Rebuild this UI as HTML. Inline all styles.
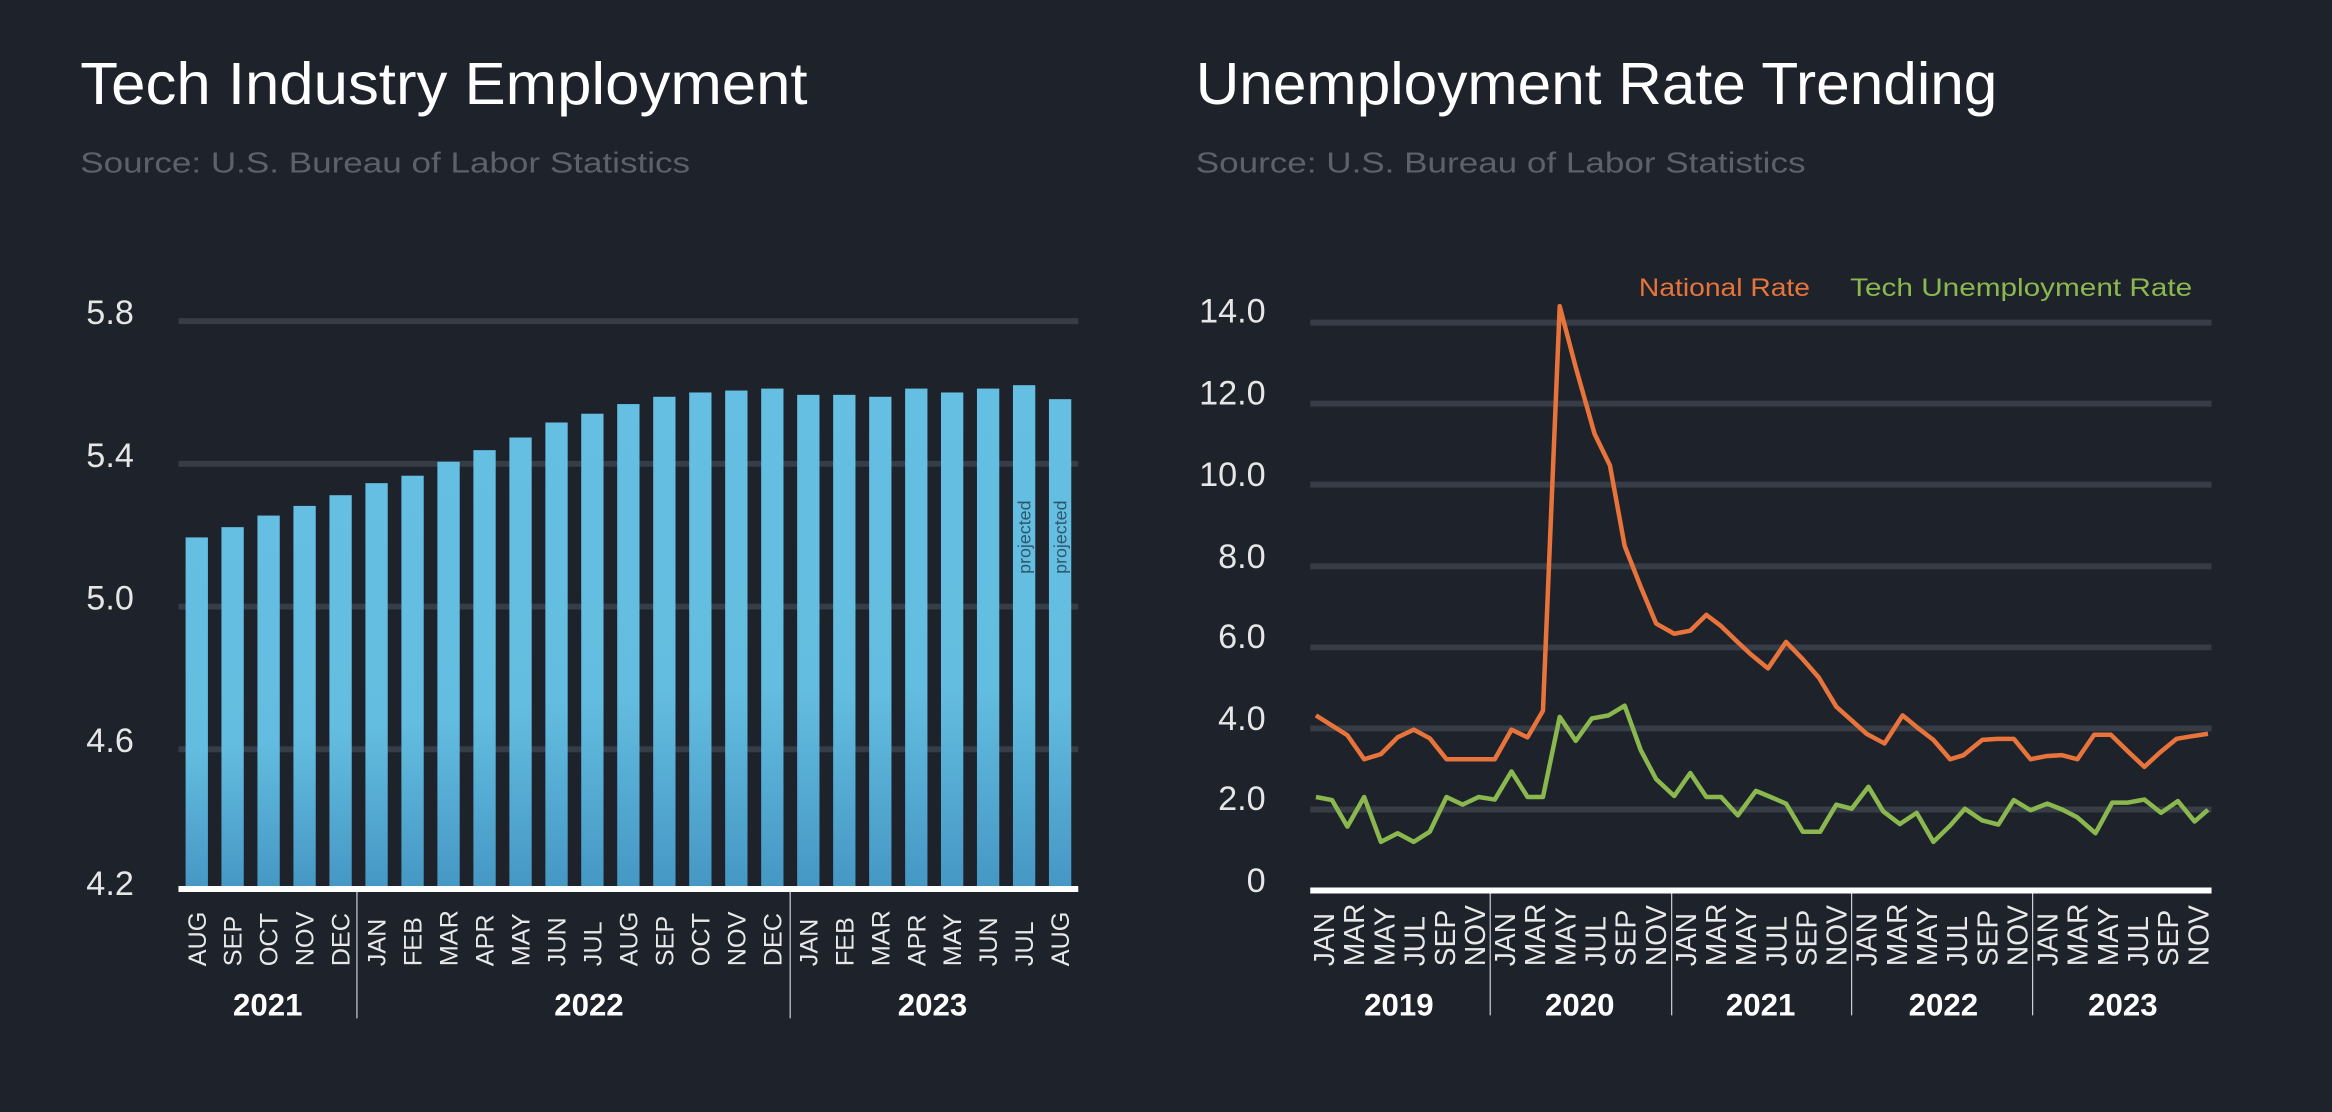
<!DOCTYPE html>
<html><head><meta charset="utf-8"><style>
html,body{margin:0;padding:0;background:#1e232b;}
svg{display:block;}
text{font-family:"Liberation Sans",sans-serif;}
</style></head><body>
<svg width="2332" height="1112" viewBox="0 0 1568 748" preserveAspectRatio="none" xmlns="http://www.w3.org/2000/svg">
<defs>
<linearGradient id="bg" x1="0" y1="0" x2="0" y2="1">
<stop offset="0" stop-color="#64bfe2"/><stop offset="0.6" stop-color="#63bde0"/><stop offset="1" stop-color="#4597c4"/>
</linearGradient>
</defs>
<rect width="1568" height="748" fill="#1e232b"/>
<!-- titles -->
<text x="54" y="70" font-size="40" fill="#ffffff" textLength="489" lengthAdjust="spacingAndGlyphs">Tech Industry Employment</text>
<text x="54" y="116" font-size="19" fill="#5b626b" textLength="410" lengthAdjust="spacingAndGlyphs">Source: U.S. Bureau of Labor Statistics</text>
<text x="804" y="70" font-size="40" fill="#ffffff" textLength="539" lengthAdjust="spacingAndGlyphs">Unemployment Rate Trending</text>
<text x="804" y="116" font-size="19" fill="#5b626b" textLength="410" lengthAdjust="spacingAndGlyphs">Source: U.S. Bureau of Labor Statistics</text>

<!-- LEFT CHART -->
<g stroke="#363d47" stroke-width="4">
<line x1="120" y1="216" x2="725" y2="216"/><line x1="120" y1="312" x2="725" y2="312"/>
<line x1="120" y1="408" x2="725" y2="408"/><line x1="120" y1="504" x2="725" y2="504"/>
</g>
<g font-size="23" fill="#e6e6e6" text-anchor="end">
<text x="90" y="218">5.8</text><text x="90" y="314">5.4</text><text x="90" y="410">5.0</text><text x="90" y="506">4.6</text><text x="90" y="602">4.2</text>
</g>
<g fill="url(#bg)">
<rect x="124.8" y="361.5" width="15" height="237"/>
<rect x="148.9" y="354.6" width="15" height="244"/>
<rect x="173.1" y="346.8" width="15" height="252"/>
<rect x="197.3" y="340.3" width="15" height="258"/>
<rect x="221.5" y="333.1" width="15" height="265"/>
<rect x="245.7" y="325" width="15" height="273"/>
<rect x="269.9" y="320" width="15" height="278"/>
<rect x="294.1" y="310.6" width="15" height="288"/>
<rect x="318.3" y="302.8" width="15" height="296"/>
<rect x="342.5" y="294.3" width="15" height="304"/>
<rect x="366.7" y="284.2" width="15" height="314"/>
<rect x="390.8" y="278.3" width="15" height="320"/>
<rect x="415" y="271.8" width="15" height="326"/>
<rect x="439.2" y="266.9" width="15" height="331"/>
<rect x="463.4" y="264" width="15" height="334"/>
<rect x="487.6" y="262.7" width="15" height="336"/>
<rect x="511.8" y="261.4" width="15" height="337"/>
<rect x="536" y="265.6" width="15" height="333"/>
<rect x="560.2" y="265.6" width="15" height="333"/>
<rect x="584.4" y="266.9" width="15" height="332"/>
<rect x="608.6" y="261.4" width="15" height="337"/>
<rect x="632.7" y="264" width="15" height="334"/>
<rect x="656.9" y="261.4" width="15" height="337"/>
<rect x="681.1" y="259.1" width="15" height="339"/>
<rect x="705.3" y="268.5" width="15" height="330"/>
</g>
<g font-size="12" fill="#2f5669">
<text transform="translate(693,386) rotate(-90)">projected</text>
<text transform="translate(717,386) rotate(-90)">projected</text>
</g>
<line x1="120" y1="598" x2="725" y2="598" stroke="#ffffff" stroke-width="4"/>
<g stroke="#cfd3d8" stroke-width="0.8"><line x1="240" y1="600" x2="240" y2="685"/><line x1="531.3" y1="600" x2="531.3" y2="685"/></g>
<g font-size="17" fill="#e8e8e8">
<text transform="translate(138.4,650) rotate(-90)">AUG</text>
<text transform="translate(162.5,650) rotate(-90)">SEP</text>
<text transform="translate(186.7,650) rotate(-90)">OCT</text>
<text transform="translate(210.9,650) rotate(-90)">NOV</text>
<text transform="translate(235.1,650) rotate(-90)">DEC</text>
<text transform="translate(259.3,650) rotate(-90)">JAN</text>
<text transform="translate(283.5,650) rotate(-90)">FEB</text>
<text transform="translate(307.7,650) rotate(-90)">MAR</text>
<text transform="translate(331.9,650) rotate(-90)">APR</text>
<text transform="translate(356.1,650) rotate(-90)">MAY</text>
<text transform="translate(380.3,650) rotate(-90)">JUN</text>
<text transform="translate(404.4,650) rotate(-90)">JUL</text>
<text transform="translate(428.6,650) rotate(-90)">AUG</text>
<text transform="translate(452.8,650) rotate(-90)">SEP</text>
<text transform="translate(477,650) rotate(-90)">OCT</text>
<text transform="translate(501.2,650) rotate(-90)">NOV</text>
<text transform="translate(525.4,650) rotate(-90)">DEC</text>
<text transform="translate(549.6,650) rotate(-90)">JAN</text>
<text transform="translate(573.8,650) rotate(-90)">FEB</text>
<text transform="translate(598,650) rotate(-90)">MAR</text>
<text transform="translate(622.2,650) rotate(-90)">APR</text>
<text transform="translate(646.3,650) rotate(-90)">MAY</text>
<text transform="translate(670.5,650) rotate(-90)">JUN</text>
<text transform="translate(694.7,650) rotate(-90)">JUL</text>
<text transform="translate(718.9,650) rotate(-90)">AUG</text>
</g>
<g font-size="21" font-weight="bold" fill="#ffffff" text-anchor="middle">
<text x="180" y="683">2021</text><text x="396" y="683">2022</text><text x="627" y="683">2023</text>
</g>

<!-- RIGHT CHART -->
<g stroke="#363d47" stroke-width="4">
<line x1="881" y1="217" x2="1487" y2="217"/><line x1="881" y1="271.5" x2="1487" y2="271.5"/>
<line x1="881" y1="326" x2="1487" y2="326"/><line x1="881" y1="381" x2="1487" y2="381"/>
<line x1="881" y1="435.5" x2="1487" y2="435.5"/><line x1="881" y1="490" x2="1487" y2="490"/>
<line x1="881" y1="544.5" x2="1487" y2="544.5"/>
</g>
<g font-size="23" fill="#e6e6e6" text-anchor="end">
<text x="851" y="217">14.0</text><text x="851" y="272">12.0</text><text x="851" y="327">10.0</text><text x="851" y="382">8.0</text>
<text x="851" y="436">6.0</text><text x="851" y="491">4.0</text><text x="851" y="545">2.0</text><text x="851" y="600">0</text>
</g>
<g font-size="17">
<text x="1102" y="199" fill="#e8743b" textLength="115" lengthAdjust="spacingAndGlyphs">National Rate</text>
<text x="1244" y="199" fill="#8ab84f" textLength="230" lengthAdjust="spacingAndGlyphs">Tech Unemployment  Rate</text>
</g>
<g transform="matrix(0.4503,0,0,0.3432,793.4,168.2)" fill="none" stroke-linejoin="round">
<polyline vector-effect="non-scaling-stroke" stroke="#e8743b" stroke-width="4.5" points="203,912 227,932 250,951 275,998 300,988 325,955 349,940 373,957 398,998 422,998 446,998 470,998 495,940 519,955 542,903 567,110 591,230 619,360 642,422 664,580 688,660 711,732 738,752 762,746 786,715 808,737 830,765 852,792 878,820 905,768 930,802 954,838 980,895 1003,922 1025,948 1052,967 1079,912 1103,938 1125,960 1150,998 1170,990 1198,960 1220,958 1245,958 1270,998 1293,992 1317,990 1340,998 1365,950 1390,950 1415,982 1440,1013 1463,985 1488,958 1510,953 1535,948"/>
<polyline vector-effect="non-scaling-stroke" stroke="#8ab84f" stroke-width="4.5" points="203,1072 227,1078 250,1130 275,1072 300,1160 325,1143 349,1160 373,1140 398,1072 422,1087 446,1072 470,1077 495,1022 519,1072 542,1072 567,915 591,962 615,918 640,912 664,893 688,980 711,1037 738,1070 762,1025 786,1072 808,1072 833,1108 860,1060 882,1072 905,1085 930,1140 956,1140 980,1087 1003,1095 1028,1052 1050,1100 1075,1125 1100,1103 1125,1160 1150,1128 1172,1095 1198,1118 1222,1126 1245,1078 1270,1098 1295,1085 1318,1097 1340,1112 1367,1143 1392,1083 1415,1083 1440,1077 1465,1103 1490,1080 1515,1120 1535,1097"/>
</g>
<line x1="881" y1="599" x2="1487" y2="599" stroke="#ffffff" stroke-width="4"/>
<g stroke="#cfd3d8" stroke-width="0.8">
<line x1="1002" y1="601" x2="1002" y2="683"/><line x1="1124" y1="601" x2="1124" y2="683"/>
<line x1="1245" y1="601" x2="1245" y2="683"/><line x1="1366.7" y1="601" x2="1366.7" y2="683"/>
</g>
<g font-size="19" fill="#e8e8e8">
<text transform="translate(897,650) rotate(-90)">JAN</text>
<text transform="translate(917.3,650) rotate(-90)">MAR</text>
<text transform="translate(937.6,650) rotate(-90)">MAY</text>
<text transform="translate(957.9,650) rotate(-90)">JUL</text>
<text transform="translate(978.2,650) rotate(-90)">SEP</text>
<text transform="translate(998.5,650) rotate(-90)">NOV</text>
<text transform="translate(1018.6,650) rotate(-90)">JAN</text>
<text transform="translate(1038.9,650) rotate(-90)">MAR</text>
<text transform="translate(1059.2,650) rotate(-90)">MAY</text>
<text transform="translate(1079.5,650) rotate(-90)">JUL</text>
<text transform="translate(1099.8,650) rotate(-90)">SEP</text>
<text transform="translate(1120.1,650) rotate(-90)">NOV</text>
<text transform="translate(1140.2,650) rotate(-90)">JAN</text>
<text transform="translate(1160.5,650) rotate(-90)">MAR</text>
<text transform="translate(1180.8,650) rotate(-90)">MAY</text>
<text transform="translate(1201.1,650) rotate(-90)">JUL</text>
<text transform="translate(1221.4,650) rotate(-90)">SEP</text>
<text transform="translate(1241.7,650) rotate(-90)">NOV</text>
<text transform="translate(1261.8,650) rotate(-90)">JAN</text>
<text transform="translate(1282.1,650) rotate(-90)">MAR</text>
<text transform="translate(1302.4,650) rotate(-90)">MAY</text>
<text transform="translate(1322.7,650) rotate(-90)">JUL</text>
<text transform="translate(1343,650) rotate(-90)">SEP</text>
<text transform="translate(1363.3,650) rotate(-90)">NOV</text>
<text transform="translate(1383.4,650) rotate(-90)">JAN</text>
<text transform="translate(1403.7,650) rotate(-90)">MAR</text>
<text transform="translate(1424,650) rotate(-90)">MAY</text>
<text transform="translate(1444.3,650) rotate(-90)">JUL</text>
<text transform="translate(1464.6,650) rotate(-90)">SEP</text>
<text transform="translate(1484.9,650) rotate(-90)">NOV</text>
</g>
<g font-size="21" font-weight="bold" fill="#ffffff" text-anchor="middle">
<text x="940.6" y="683">2019</text><text x="1062.2" y="683">2020</text><text x="1183.8" y="683">2021</text><text x="1306.7" y="683">2022</text><text x="1427.4" y="683">2023</text>
</g>
</svg>
</body></html>
